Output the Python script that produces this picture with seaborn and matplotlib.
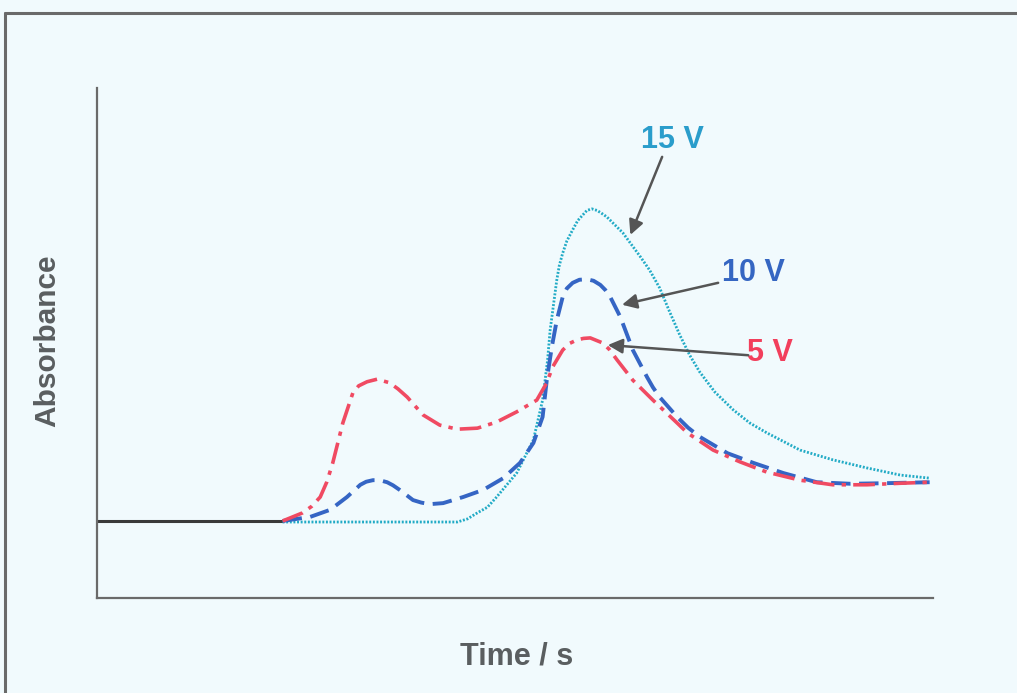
import numpy as np
import pandas as pd
import matplotlib
matplotlib.use("Agg")
import matplotlib.pyplot as plt
from matplotlib.lines import Line2D
import seaborn as sns

# Shared baseline before the pulse
time_base = [0.0, 22.2]
abs_base = [0.151, 0.151]

# 5 V transient
time_5v = [22.2, 24.6, 25.7, 26.7, 27.5, 28.2, 29.4, 30.6, 31.3, 32.3, 33.5, 35.0, 36.0,
           37.1, 39.0, 41.0, 43.1, 45.5, 47.8, 50.2, 52.6, 53.8, 54.5, 55.7, 56.5, 57.4,
           58.2, 59.0, 60.5, 61.3, 62.2, 64.1, 66.5, 69.4, 70.6, 73.7, 76.9, 80.1, 84.1,
           88.0, 92.1, 96.1, 99.6]
abs_5v = [0.151, 0.167, 0.180, 0.198, 0.228, 0.265, 0.343, 0.402, 0.416, 0.424, 0.429, 0.422,
          0.410, 0.394, 0.359, 0.339, 0.331, 0.333, 0.345, 0.365, 0.388, 0.422, 0.453, 0.486,
          0.499, 0.506, 0.509, 0.510, 0.500, 0.487, 0.467, 0.427, 0.388, 0.343, 0.324, 0.290,
          0.267, 0.247, 0.231, 0.222, 0.222, 0.225, 0.227]

# 10 V transient
time_10v = [22.2, 25.5, 27.9, 29.9, 31.5, 32.2, 33.0, 33.8, 34.7, 35.4, 36.2, 37.8, 38.8,
            39.8, 41.4, 43.8, 46.2, 48.6, 50.6, 52.2, 53.3, 53.8, 54.4, 55.0, 55.7, 56.2,
            56.9, 57.7, 58.6, 59.4, 60.2, 60.8, 61.4, 62.6, 64.1, 65.8, 66.5, 67.3, 69.4,
            70.7, 72.1, 75.4, 78.5, 82.1, 86.1, 90.1, 94.0, 99.6]
abs_10v = [0.151, 0.159, 0.173, 0.198, 0.222, 0.228, 0.231, 0.231, 0.227, 0.221, 0.212, 0.192,
           0.187, 0.184, 0.186, 0.198, 0.212, 0.235, 0.265, 0.304, 0.355, 0.427, 0.492, 0.545,
           0.590, 0.607, 0.618, 0.624, 0.625, 0.622, 0.614, 0.604, 0.590, 0.551, 0.486, 0.433,
           0.413, 0.394, 0.355, 0.334, 0.316, 0.284, 0.265, 0.245, 0.227, 0.224, 0.225, 0.227]

# 15 V transient
time_15v = [22.2, 43.1, 44.3, 45.5, 46.7, 47.8, 50.2, 52.2, 53.3, 53.9, 54.2, 55.0, 55.3,
            55.7, 56.2, 56.9, 57.5, 58.6, 59.2, 59.8, 60.3, 61.0, 62.9, 65.0, 66.1, 67.3,
            68.5, 69.7, 70.9, 72.1, 73.9, 76.1, 78.1, 80.1, 84.1, 88.0, 92.1, 96.1, 99.6]
abs_15v = [0.149, 0.149, 0.155, 0.167, 0.178, 0.198, 0.245, 0.310, 0.388, 0.467, 0.525, 0.624,
           0.652, 0.676, 0.700, 0.722, 0.740, 0.760, 0.763, 0.760, 0.755, 0.747, 0.716, 0.669,
           0.643, 0.608, 0.561, 0.516, 0.476, 0.443, 0.404, 0.369, 0.343, 0.324, 0.290, 0.271,
           0.255, 0.241, 0.235]

labels = ["5 V", "10 V", "15 V"]
colors = {"5 V": "#f04a62", "10 V": "#3565c4", "15 V": "#22abc6"}
label_colors = {"5 V": "#f23f5c", "10 V": "#3566c2", "15 V": "#2a9dcb"}

df = pd.concat([
    pd.DataFrame({"time": time_5v, "absorbance": abs_5v, "voltage": "5 V"}),
    pd.DataFrame({"time": time_10v, "absorbance": abs_10v, "voltage": "10 V"}),
    pd.DataFrame({"time": time_15v, "absorbance": abs_15v, "voltage": "15 V"}),
], ignore_index=True)

sns.set_style("white")
plt.rcParams["font.family"] = ["Liberation Sans", "DejaVu Sans"]

bg = "#f1fafd"
fig = plt.figure(figsize=(10.17, 6.93), dpi=100, facecolor=bg)
ax = fig.add_axes([0.0954, 0.1371, 0.822, 0.7359])
ax.set_facecolor(bg)

ax.plot(time_base, abs_base, color="#3a3a3a", lw=2.2, solid_capstyle="butt")

styles = {"5 V": dict(ls=(0, (6, 2, 1.2, 2)), lw=2.6),
          "10 V": dict(ls=(0, (5, 2.2)), lw=2.8),
          "15 V": dict(ls=(0, (0.7, 0.6)), lw=2.0)}
for lab in ["15 V", "10 V", "5 V"]:
    sub = df[df["voltage"] == lab]
    sns.lineplot(data=sub, x="time", y="absorbance", ax=ax, color=colors[lab],
                 linestyle=styles[lab]["ls"], lw=styles[lab]["lw"], legend=False,
                 sort=False, estimator=None)

ax.set_xlim(0, 100)
ax.set_ylim(0, 1.0)
ax.set_xticks([])
ax.set_yticks([])
ax.set_xlabel("")
ax.set_ylabel("")
for side in ["top", "right"]:
    ax.spines[side].set_visible(False)
for side in ["left", "bottom"]:
    ax.spines[side].set_color("#6a6a6a")
    ax.spines[side].set_linewidth(1.6)

# Voltage labels with arrows pointing at each curve
label_pos = {"15 V": (68.8, 0.898), "10 V": (78.5, 0.637), "5 V": (80.5, 0.480)}
arrows = {"15 V": ((67.6, 0.865), (63.8, 0.712)),
          "10 V": ((74.3, 0.618), (62.8, 0.575)),
          "5 V": ((77.9, 0.476), (61.1, 0.496))}
for lab in labels:
    x, y = label_pos[lab]
    ax.text(x, y, lab, color=label_colors[lab], fontsize=22, fontweight="bold",
            ha="center", va="center")
    start, end = arrows[lab]
    ax.annotate("", xy=end, xytext=start,
                arrowprops=dict(arrowstyle="-|>", color="#555555", lw=1.8,
                                mutation_scale=22, shrinkA=0, shrinkB=0))

fig.text(0.0462, 0.509, "Absorbance", rotation=90, ha="center", va="center",
         fontsize=21.5, fontweight="bold", color="#5a5e60")
fig.text(0.508, 0.052, "Time / s", ha="center", va="center",
         fontsize=22, fontweight="bold", color="#5a5e60")

# Outer frame (top and left edges)
fig.add_artist(Line2D([5 / 1017, 1.0], [1 - 13 / 693, 1 - 13 / 693],
                      transform=fig.transFigure, color="#6a6a6a", lw=2.2))
fig.add_artist(Line2D([5 / 1017, 5 / 1017], [0.0, 1 - 13 / 693],
                      transform=fig.transFigure, color="#6a6a6a", lw=2.2))

fig.savefig("out.png", dpi=100, facecolor=bg)
